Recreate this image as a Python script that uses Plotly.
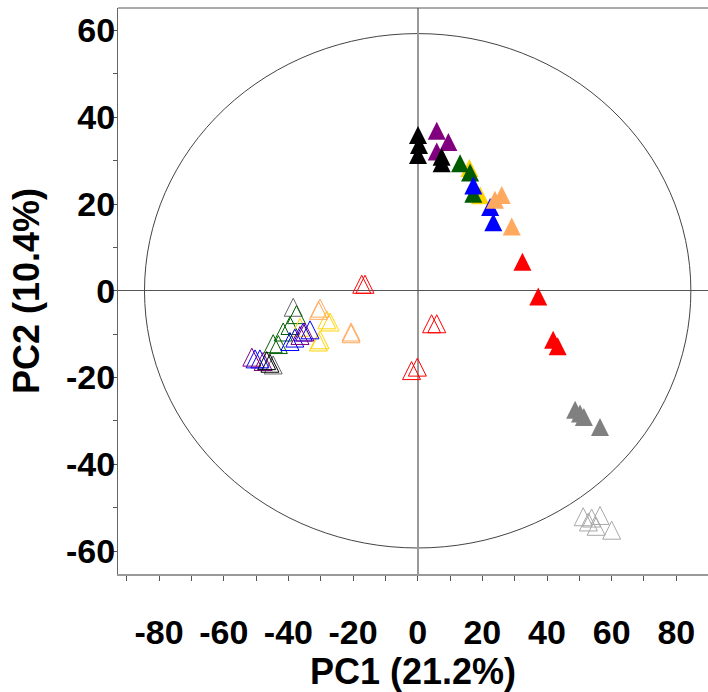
import plotly.graph_objects as go

# ---------------- data (PC1, PC2 scores) ----------------
# filled triangles
purple_f_x = [5.9, 9.5, 5.9]
purple_f_y = [36.9, 34.3, 32.1]
black_f_x = [0.1, 0.4, 0.1, 7.4, 7.4]
black_f_y = [35.9, 33.6, 31.3, 30.9, 29.4]
yellow_f_x = [16.0, 19.3]
yellow_f_y = [28.3, 22.0]
green_f_x = [13.1, 16.2, 17.2]
green_f_y = [29.4, 27.3, 22.4]
blue_f_x = [17.2, 22.4, 23.4]
blue_f_y = [24.3, 19.3, 15.8]
orange_f_x = [26.0, 23.9, 29.1]
orange_f_y = [22.1, 21.0, 14.8]
red_f_x = [32.4, 37.3, 41.9, 43.3]
red_f_y = [6.7, -1.3, -11.3, -12.8]
grey_f_x = [48.7, 50.2, 51.4, 56.4]
grey_f_y = [-27.4, -28.3, -29.1, -31.4]

# open triangles
dgrey_o_x = [-38.5, -44.7]
dgrey_o_y = [-3.8, -17.1]
green_o_x = [-37.5, -39.5, -41.6, -44.7, -43.1]
green_o_y = [-5.5, -8.0, -9.5, -12.2, -12.4]
yellow_o_x = [-28.1, -27.1, -30.2, -30.7, -36.4]
yellow_o_y = [-6.7, -7.2, -11.3, -11.8, -8.4]
orange_o_x = [-30.2, -30.7, -20.6, -20.6]
orange_o_y = [-4.0, -4.5, -9.5, -9.9]
blue_o_x = [-33.3, -35.4, -38.0, -39.5, -48.8, -50.3]
blue_o_y = [-9.0, -9.5, -10.9, -11.7, -15.7, -15.7]
purple_o_x = [-34.9, -36.4, -51.3, -47.8]
purple_o_y = [-9.5, -10.3, -15.3, -16.3]
black_o_x = [-45.7, -46.7]
black_o_y = [-16.7, -16.1]
red_o_x = [-17.3, -16.3, 4.3, 5.9, -1.9, -0.1]
red_o_y = [1.5, 1.5, -7.6, -7.6, -18.4, -17.6]
lgrey_o_x = [51.2, 53.8, 56.4, 55.2, 60.0, 52.8]
lgrey_o_y = [-52.1, -52.4, -51.8, -54.3, -55.2, -53.3]

# Hotelling ellipse radii
ellipse_rx = 84.5
ellipse_ry = 59.3

x_tick_vals = [-80, -60, -40, -20, 0, 20, 40, 60, 80]
x_tick_text = ["-80", "-60", "-40", "-20", "0", "20", "40", "60", "80"]
y_tick_vals = [-60, -40, -20, 0, 20, 40, 60]
y_tick_text = ["-60", "-40", "-20", "0", "20", "40", "60"]

x_title = "PC1 (21.2%)"
y_title = "PC2 (10.4%)"

# ---------------- styling ----------------
X_RANGE = [-92.7, 89.8]
Y_RANGE = [-65.3, 65.2]
MARKER_SIZE = 18
PX_PER_Y = 566.3 / (Y_RANGE[1] - Y_RANGE[0])
SHIFT = (MARKER_SIZE / 2) / PX_PER_Y  # centre the apex-anchored triangle

FONT = "Liberation Sans, Arial, sans-serif"

fig = go.Figure()

open_series = [
    (dgrey_o_x, dgrey_o_y, "#666666"),
    (green_o_x, green_o_y, "#006000"),
    (yellow_o_x, yellow_o_y, "#FFD400"),
    (orange_o_x, orange_o_y, "#FFA95E"),
    (blue_o_x, blue_o_y, "#0000FF"),
    (purple_o_x, purple_o_y, "#800080"),
    (black_o_x, black_o_y, "#000000"),
    (red_o_x, red_o_y, "#FF0000"),
    (lgrey_o_x, lgrey_o_y, "#A8A8A8"),
]
filled_series = [
    (purple_f_x, purple_f_y, "#800080"),
    (black_f_x, black_f_y, "#000000"),
    (yellow_f_x, yellow_f_y, "#FFD400"),
    (green_f_x, green_f_y, "#005A00"),
    (blue_f_x, blue_f_y, "#0000FF"),
    (orange_f_x, orange_f_y, "#FFA95E"),
    (red_f_x, red_f_y, "#FF0000"),
    (grey_f_x, grey_f_y, "#808080"),
]

for xs, ys, c in open_series:
    fig.add_trace(go.Scatter(
        x=xs, y=ys, mode="markers", yaxis="y2", showlegend=False,
        marker=dict(symbol="arrow-up-open", size=MARKER_SIZE, color=c,
                    line=dict(color=c, width=1)),
    ))
for xs, ys, c in filled_series:
    fig.add_trace(go.Scatter(
        x=xs, y=ys, mode="markers", yaxis="y2", showlegend=False,
        marker=dict(symbol="arrow-up", size=MARKER_SIZE, color=c,
                    line=dict(width=0)),
    ))

# ellipse
fig.add_shape(type="circle", xref="x", yref="y",
              x0=-ellipse_rx, x1=ellipse_rx, y0=-ellipse_ry, y1=ellipse_ry,
              line=dict(color="#444444", width=1), layer="below")
# top frame line
fig.add_shape(type="line", xref="paper", yref="paper", x0=0, x1=1, y0=1, y1=1,
              line=dict(color="#555555", width=1))

tickfont = dict(family=FONT, size=34, color="black", weight="bold")
titlefont = dict(family=FONT, size=36, color="black", weight="bold")

fig.update_layout(
    width=708, height=692,
    margin=dict(l=118, r=0, t=8, b=118),
    paper_bgcolor="white", plot_bgcolor="white",
    xaxis=dict(
        range=X_RANGE, showgrid=False,
        zeroline=True, zerolinecolor="#999999", zerolinewidth=2,
        showline=True, linecolor="#999999", linewidth=2,
        tickmode="array", tickvals=x_tick_vals, ticktext=x_tick_text,
        ticks="outside", ticklen=5, tickcolor="#555555", tickwidth=1,
        minor=dict(dtick=10, tick0=0, ticks="outside", ticklen=5,
                   tickcolor="#555555", tickwidth=1, showgrid=False),
        tickfont=tickfont, ticklabelstandoff=22,
        title=dict(text=x_title, font=titlefont, standoff=8),
    ),
    yaxis=dict(
        range=Y_RANGE, showgrid=False,
        zeroline=True, zerolinecolor="#555555", zerolinewidth=1,
        showline=True, linecolor="#666666", linewidth=1,
        tickmode="array", tickvals=y_tick_vals, ticktext=y_tick_text,
        ticks="outside", ticklen=4, tickcolor="#555555", tickwidth=1,
        minor=dict(dtick=10, tick0=0, ticks="outside", ticklen=4,
                   tickcolor="#555555", tickwidth=1, showgrid=False),
        tickfont=tickfont, ticklabelstandoff=-9,
        title=dict(text=y_title, font=titlefont, standoff=15),
    ),
    yaxis2=dict(
        overlaying="y", visible=False,
        range=[Y_RANGE[0] - SHIFT, Y_RANGE[1] - SHIFT],
    ),
)

fig.write_html("out.html")
